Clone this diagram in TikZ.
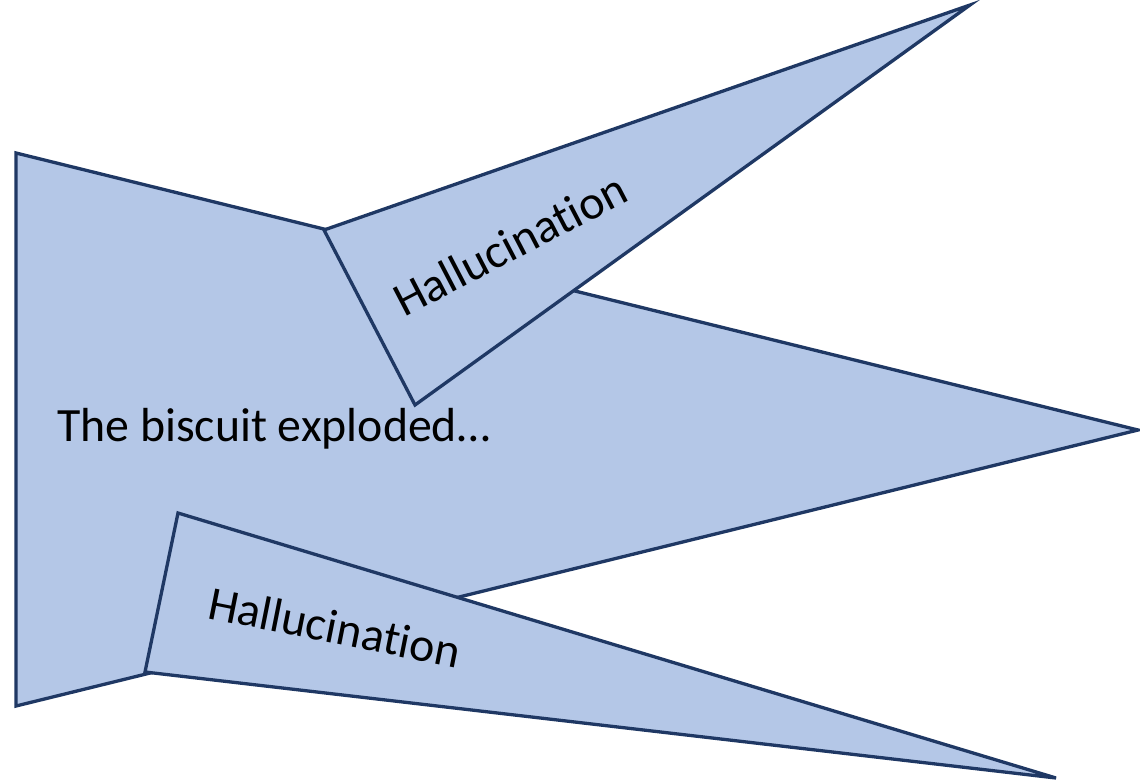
\documentclass[tikz,border=0pt]{standalone}
\usepackage{fontspec}
\setmainfont{Carlito}[Ligatures=NoCommon]
\definecolor{shapefill}{HTML}{B4C7E7}
\definecolor{shapeline}{HTML}{1F3864}
\begin{document}
\begin{tikzpicture}[x=1pt,y=-1pt,
  piece/.style={fill=shapefill,draw=shapeline,line width=3.3pt,line join=miter},
  bigtext/.style={font=\fontsize{47.8}{56}\selectfont,inner sep=0pt},
  hallu/.style={font=\fontsize{47.8}{56}\selectfont,inner sep=0pt}]
\useasboundingbox (0,0) rectangle (1140,782);
% main shape
\coordinate (m1) at (16,153);
\coordinate (m2) at (1138,430);
\coordinate (m3) at (16,706);
\draw[piece] (m1) -- (m2) -- (m3) -- cycle;
% upper triangle
\coordinate (u1) at (324,230);
\coordinate (u2) at (970,5);
\coordinate (u3) at (415,405);
\draw[piece] (u1) -- (u2) -- (u3) -- cycle;
% lower triangle
\coordinate (l1) at (178,513);
\coordinate (l2) at (1056,778);
\coordinate (l3) at (145,672);
\draw[piece] (l1) -- (l2) -- (l3) -- cycle;
% texts
\node[bigtext,anchor=base west] (main) at (57,441) {The biscuit exploded…};
\node[hallu,anchor=base west,rotate=27.5] (hup) at (404,318) {Hallucination};
\node[hallu,anchor=base west,rotate=-11.3] (hlow) at (206,618) {Hallucination};
\end{tikzpicture}
\end{document}
